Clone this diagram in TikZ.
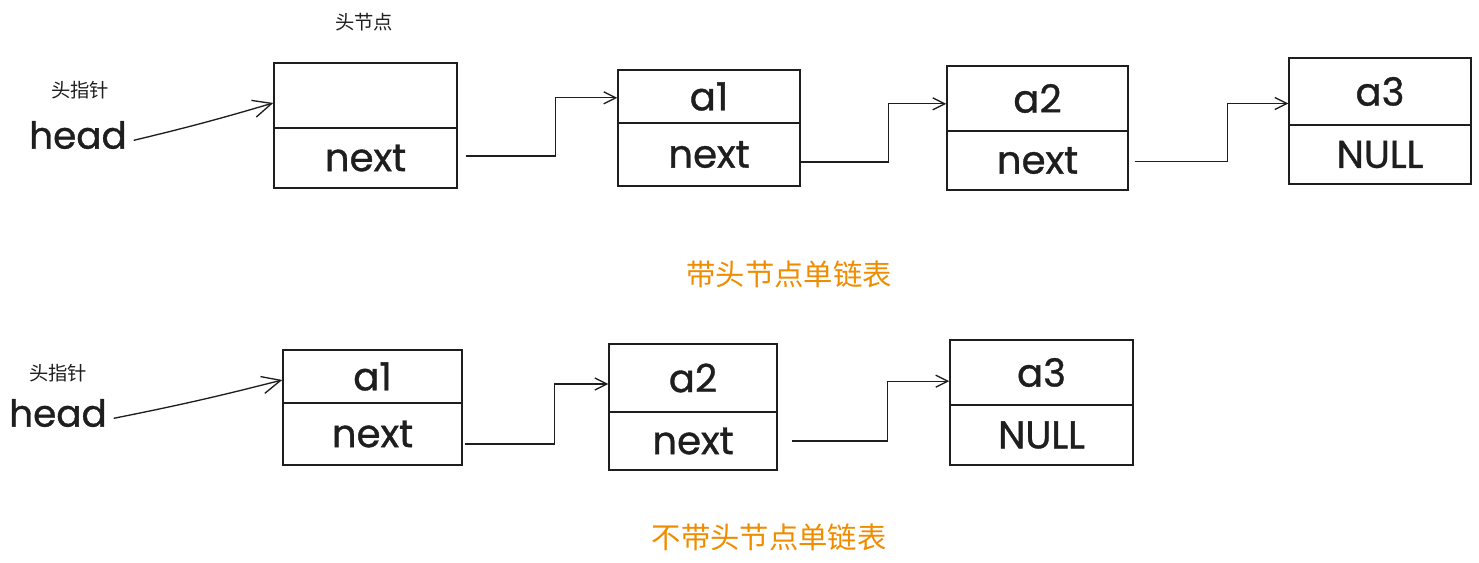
\documentclass[tikz,border=0pt]{standalone}
\usepackage{fontspec}
\setmainfont{Poppins}
\newfontfamily\hand{Poppins}[FakeBold=0.9]
\newfontfamily\cjk{Noto Sans CJK SC}
\usetikzlibrary{arrows.meta,calc}
\definecolor{ink}{HTML}{1E1E1E}
\definecolor{capcol}{HTML}{F08C00}
\tikzset{
  cell/.style={draw=ink, line width=1.1pt, rectangle, inner sep=0pt, font=\hand\fontsize{29}{32}\selectfont, text=ink},
  conn/.style={draw=ink, line width=1pt, -{Straight Barb[length=9pt,width=9pt,line width=1pt]}},
  ptr/.style={draw=ink, line width=1pt, -{Straight Barb[length=14pt,width=13pt,line width=1pt]}},
  big/.style={font=\hand\fontsize{28}{31}\selectfont, text=ink, inner sep=0pt},
  small/.style={font=\cjk\fontsize{14.5}{17}\selectfont, text=ink, inner sep=0pt},
  caption/.style={font=\cjk\fontsize{22}{25}\selectfont, text=capcol, inner sep=0pt},
}
\begin{document}
\begin{tikzpicture}[x=0.75pt,y=-0.75pt]
\useasboundingbox (0,0) rectangle (1479,563);
% ---------- top row ----------
\node[small] (ptrA) at (80,90) {头指针};
\node[big] (headA) at (78,135) {head};
\node[small] (hnode) at (364,22) {头节点};
\node[cell, minimum width=137.25pt, minimum height=48.75pt] (H1t) at (365.5,95.5) {};
\node[cell, minimum width=137.25pt, minimum height=45pt] (H1b) at (365.5,158) {next};
\node[cell, minimum width=136.5pt, minimum height=39.75pt] (A1t) at (709,96.5) {a1};
\node[cell, minimum width=136.5pt, minimum height=47.25pt] (A1b) at (709,154.5) {next};
\node[cell, minimum width=135.75pt, minimum height=48.75pt] (A2t) at (1037.5,98.5) {a2};
\node[cell, minimum width=135.75pt, minimum height=44.25pt] (A2b) at (1037.5,160.5) {next};
\node[cell, minimum width=136.5pt, minimum height=50.25pt] (A3t) at (1380,91.5) {a3};
\node[cell, minimum width=136.5pt, minimum height=44.25pt] (A3b) at (1380,154.5) {NULL};
\node[caption] (capA) at (789,274) {带头节点单链表};
\draw[ptr] ([xshift=5pt,yshift=-4pt]headA.east) to[bend right=1.5] ([yshift=-5.6pt]H1t.west);
\draw[conn] ([xshift=6pt,yshift=1.5pt]H1b.east) -- ++(90,0) |- ([yshift=-1pt]A1t.west);
\draw[conn] ([yshift=-5.6pt]A1b.east) -- ++(88,0) |- ([yshift=-4pt]A2t.west);
\draw[conn] ([xshift=4.5pt,yshift=-1pt]A2b.east) -- ++(93,0) |- ([yshift=-9pt]A3t.west);
% ---------- bottom row ----------
\node[small] (ptrB) at (58,373) {头指针};
\node[big] (headB) at (58,413) {head};
\node[cell, minimum width=134.25pt, minimum height=39.75pt] (B1t) at (372.5,376.5) {a1};
\node[cell, minimum width=134.25pt, minimum height=46.5pt] (B1b) at (372.5,434) {next};
\node[cell, minimum width=126pt, minimum height=51pt] (B2t) at (693,378) {a2};
\node[cell, minimum width=126pt, minimum height=43.5pt] (B2b) at (693,441) {next};
\node[cell, minimum width=137.25pt, minimum height=48.75pt] (B3t) at (1041.5,372.5) {a3};
\node[cell, minimum width=137.25pt, minimum height=45pt] (B3b) at (1041.5,435) {NULL};
\node[caption] (capB) at (769,537) {不带头节点单链表};
\draw[ptr] ([xshift=5pt,yshift=-4pt]headB.east) to[bend right=1.5] ([yshift=-2.6pt]B1t.west);
\draw[conn] ([xshift=1.5pt,yshift=-7.5pt]B1b.east) -- ++(90,0) |- ([yshift=-4.5pt]B2t.west);
\draw[conn] ([xshift=11pt]B2b.east) -- ++(95,0) |- ([yshift=-6.5pt]B3t.west);
\end{tikzpicture}
\end{document}
